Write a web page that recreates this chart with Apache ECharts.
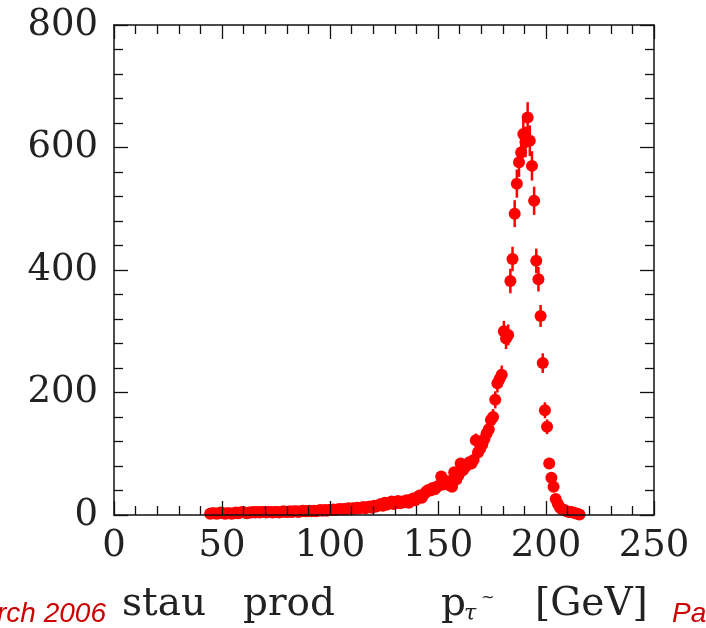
<!DOCTYPE html>
<html><head><meta charset="utf-8">
<script src="https://cdn.jsdelivr.net/npm/echarts@6/dist/echarts.min.js"></script>
<style>html,body{margin:0;padding:0;background:#fff}#c{width:706px;height:628px}</style>
</head><body><div id="c"></div>
<script>
// Histogram: 1 GeV bins starting at 44 GeV
const binStart = 44, binWidth = 1;
const counts = [
  2,3,3,2,3,4,3,2,3,3,
  2,3,4,3,4,5,4,3,4,4,
  5,4,5,4,5,5,4,5,5,4,
  5,5,4,5,6,5,5,6,5,6,
  6,5,6,7,6,6,7,6,7,6,
  7,8,7,8,7,8,8,9,8,9,
  10,9,10,9,11,10,11,10,12,11,
  12,13,11,13,14,12,15,14,16,18,
  15,20,17,19,22,18,20,23,19,22,
  21,24,20,25,27,24,29,32,28,34,
  38,41,40,44,42,46,48,63,50,52,
  55,48,46,70,58,65,84,73,78,82,
  86,84,90,122,102,108,115,124,133,140,
  155,160,188,215,222,229,300,288,294,382,
  418,492,541,576,592,622,609,649,611,570,
  513,415,385,325,248,171,144,84,61,46,
  26,18,12,9,8,6,5,5,4,3,
  2,1
];
const errors = [
  1,2,2,1,2,2,2,1,2,2,
  1,2,2,2,2,2,2,2,2,2,
  2,2,2,2,2,2,2,2,2,2,
  2,2,2,2,2,2,2,2,2,2,
  2,2,2,3,2,2,3,2,3,2,
  3,3,3,3,3,3,3,3,3,3,
  3,3,3,3,3,3,3,3,3,3,
  3,4,3,4,4,3,4,4,4,4,
  4,4,4,4,5,4,4,5,4,5,
  5,5,4,5,5,5,5,6,5,6,
  6,6,6,7,6,7,7,8,7,7,
  7,7,7,8,8,8,9,9,9,9,
  9,9,9,11,10,10,11,11,12,12,
  12,13,14,15,15,15,17,17,17,20,
  20,22,23,24,24,25,25,25,25,24,
  23,20,20,18,16,13,12,9,8,7,
  5,4,3,3,3,2,2,2,2,2,
  1,1
];
const xRange = [0, 250], xStep = 50;
const yRange = [0, 800], yStep = 200;

const points = counts.map((c, i) => [binStart + binWidth * (i + 0.5), c, errors[i]]);

const chart = echarts.init(document.getElementById('c'), null, {renderer: 'canvas'});
const serif = '"DejaVu Serif", "Liberation Serif", serif';
const axisCommon = (isX, pos, showLabel) => ({
  type: 'value',
  position: pos,
  min: isX ? xRange[0] : yRange[0],
  max: isX ? xRange[1] : yRange[1],
  interval: isX ? xStep : yStep,
  z: 5,
  axisLine: {show: true, onZero: false, lineStyle: {color: '#111', width: 1.5}},
  axisTick: {show: true, inside: true, length: 14, lineStyle: {color: '#111', width: 1.3}},
  minorTick: {show: true, splitNumber: 5, length: 9, lineStyle: {color: '#111', width: 1.3}},
  splitLine: {show: false},
  minorSplitLine: {show: false},
  axisLabel: {show: showLabel, fontFamily: serif, fontSize: 37, color: '#222', margin: isX ? 13 : 16, showMinLabel: true, showMaxLabel: true}
});

chart.setOption({
  animation: false,
  backgroundColor: '#fff',
  grid: {left: 114, right: 52, top: 25, bottom: 113, containLabel: false},
  xAxis: [axisCommon(true, 'bottom', true), axisCommon(true, 'top', false)],
  yAxis: [axisCommon(false, 'left', true), axisCommon(false, 'right', false)],
  series: [
    {
      type: 'custom',
      xAxisIndex: 0, yAxisIndex: 0,
      clip: true,
      z: 2,
      renderItem: function (params, api) {
        const x = api.value(0), y = api.value(1), e = api.value(2);
        const p1 = api.coord([x, y - e]), p2 = api.coord([x, y + e]);
        return {type: 'line', shape: {x1: p1[0], y1: p1[1], x2: p2[0], y2: p2[1]},
                style: {stroke: '#ff0000', lineWidth: 2.5}};
      },
      data: points
    },
    {
      type: 'scatter',
      xAxisIndex: 0, yAxisIndex: 0,
      clip: true,
      z: 3,
      symbol: 'circle',
      symbolSize: 12,
      itemStyle: {color: '#ff0000', opacity: 1},
      emphasis: {disabled: true},
      data: points.map(p => [p[0], p[1]])
    }
  ],
  graphic: [
    {type: 'text', left: -3, top: 600, style: {text: 'rch 2006', font: 'italic 28px "Liberation Sans", Arial, sans-serif', fill: '#cc0000'}},
    {type: 'text', left: 672, top: 600, style: {text: 'Pa', font: 'italic 28px "Liberation Sans", Arial, sans-serif', fill: '#cc0000'}},
    {type: 'text', left: 122, top: 585, style: {text: 'stau', font: '39px ' + serif, fill: '#222'}},
    {type: 'text', left: 243, top: 585, style: {text: 'prod', font: '39px ' + serif, fill: '#222'}},
    {type: 'text', left: 441, top: 585, style: {text: 'p', font: '39px ' + serif, fill: '#222'}},
    {type: 'text', left: 464, top: 603, style: {text: 'τ', font: 'italic 22px ' + serif, fill: '#222'}},
    {type: 'text', left: 481, top: 590, style: {text: '~', font: '16px ' + serif, fill: '#222'}},
    {type: 'text', left: 535, top: 585, style: {text: '[GeV]', font: '39px ' + serif, fill: '#222'}}
  ]
});
</script>
</body></html>
